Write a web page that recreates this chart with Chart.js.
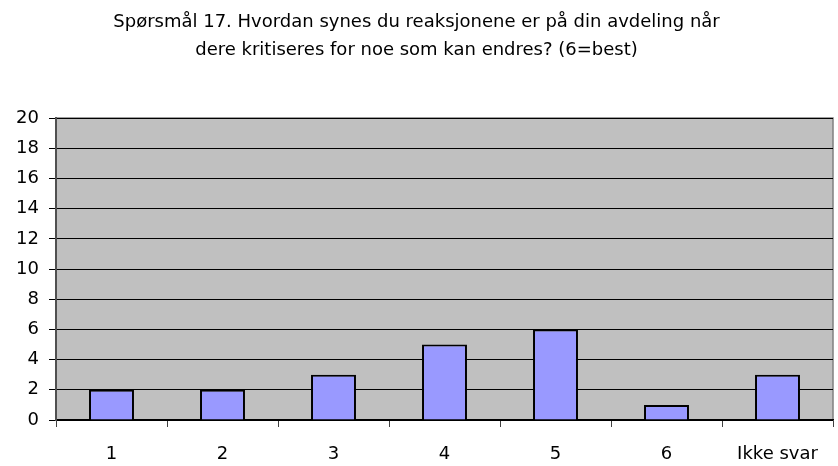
<!DOCTYPE html>
<html>
<head>
<meta charset="utf-8">
<script src="https://cdn.jsdelivr.net/npm/chart.js@4/dist/chart.umd.min.js"></script>
<style>
  html, body { margin: 0; padding: 0; background: #fff; }
  #wrap { width: 838px; height: 466px; }
</style>
</head>
<body>
<div id="wrap"><canvas id="chart" width="838" height="466"></canvas></div>
<script>
const categories = ["1", "2", "3", "4", "5", "6", "Ikke svar"];
const answers = [2, 2, 3, 5, 6, 1, 3];
const yTicks = [0, 2, 4, 6, 8, 10, 12, 14, 16, 18, 20];
const titleLines = [
    "Spørsmål 17. Hvordan synes du reaksjonene er på din avdeling når",
    "dere kritiseres for noe som kan endres? (6=best)"
];

const FONT = "'DejaVu Sans', 'Liberation Sans', Arial";

// grey plot background with thin frame
const plotBackground = {
    id: "plotBackground",
    beforeDraw(chart) {
        const { ctx, chartArea: a } = chart;
        ctx.save();
        ctx.fillStyle = "#C0C0C0";
        ctx.fillRect(a.left, a.top, a.right - a.left, a.bottom - a.top);
        ctx.strokeStyle = "#808080";
        ctx.lineWidth = 1.5;
        ctx.beginPath();
        ctx.moveTo(a.left, a.top);
        ctx.lineTo(a.right, a.top);
        ctx.lineTo(a.right, a.bottom);
        ctx.stroke();
        ctx.restore();
    }
};

new Chart(document.getElementById("chart"), {
    type: "bar",
    data: {
        labels: categories,
        datasets: [{
            data: answers,
            backgroundColor: "#9999FF",
            borderColor: "#000000",
            borderWidth: 2,
            barPercentage: 0.405,
            categoryPercentage: 1.0
        }]
    },
    options: {
        responsive: false,
        animation: false,
        layout: { padding: { top: 0, right: 5, left: 0, bottom: 0 } },
        plugins: {
            legend: { display: false },
            tooltip: { enabled: false },
            title: {
                display: true,
                text: titleLines,
                color: "#000",
                font: { family: FONT, size: 18, weight: "normal", lineHeight: 1.53 },
                padding: { top: 9, bottom: 54 }
            }
        },
        scales: {
            x: {
                offset: true,
                afterFit(scale) { scale.height = 46; },
                grid: {
                    offset: true,
                    drawOnChartArea: false,
                    tickLength: 7,
                    color: "#404040",
                    lineWidth: 1
                },
                border: { color: "#000", width: 1.5 },
                ticks: {
                    color: "#000",
                    padding: 17,
                    maxRotation: 0,
                    autoSkip: false,
                    font: { family: FONT, size: 18 }
                }
            },
            y: {
                min: 0,
                max: 20,
                afterBuildTicks(scale) {
                    scale.ticks = yTicks.map(v => ({ value: v }));
                },
                afterFit(scale) { scale.width = 56; },
                grid: {
                    color: "#000",
                    lineWidth: 1,
                    tickLength: 7
                },
                border: { color: "#505050", width: 2 },
                ticks: {
                    color: "#000",
                    padding: 10,
                    font: { family: FONT, size: 18 }
                }
            }
        }
    },
    plugins: [plotBackground]
});
</script>
</body>
</html>
